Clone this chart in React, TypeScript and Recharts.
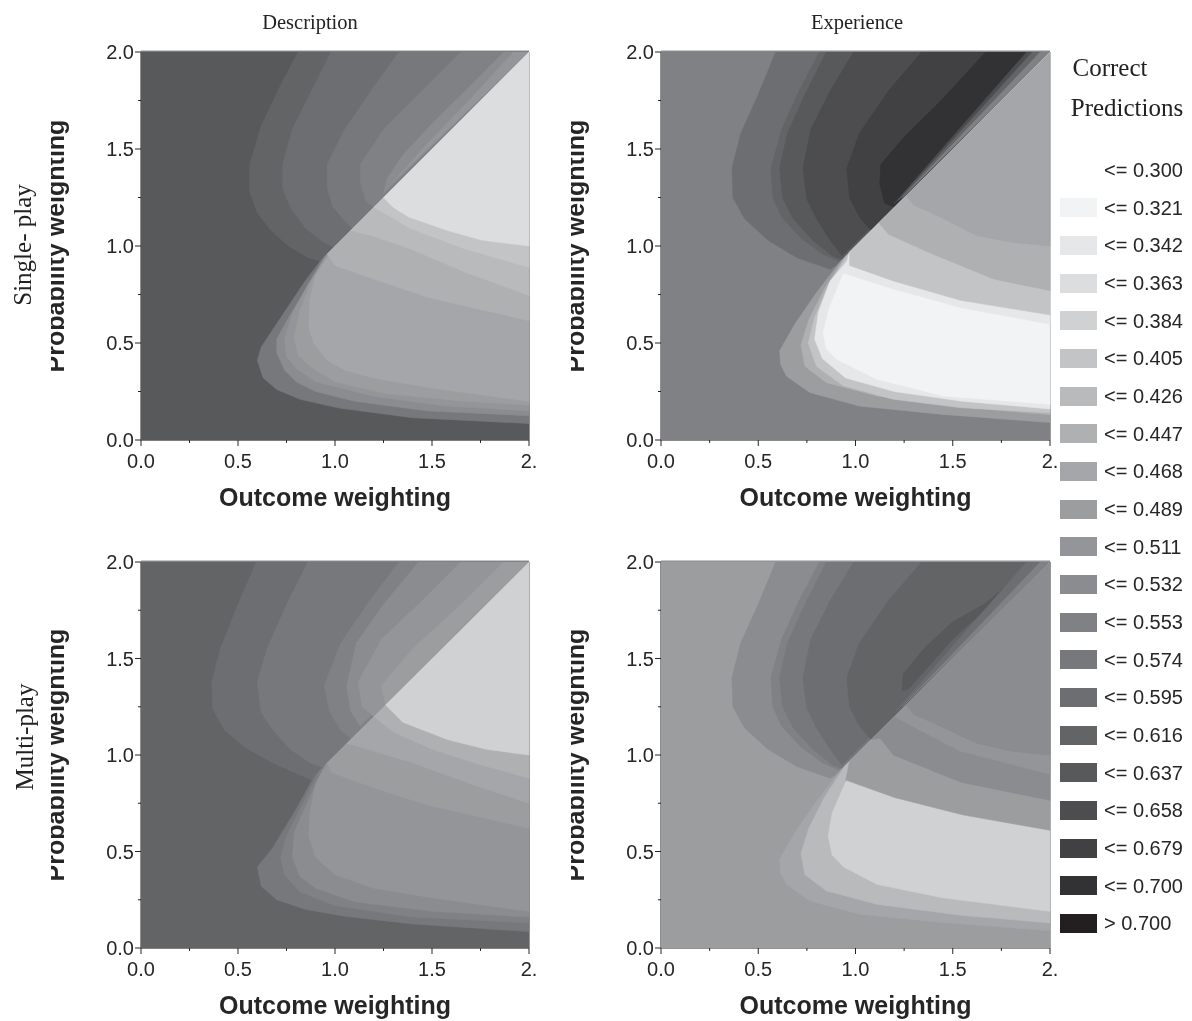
import React from 'react';
import { ScatterChart, Scatter, XAxis, YAxis, ReferenceLine } from 'recharts';

type Pt = [number, number];

const legendLabels = ['<= 0.300','<= 0.321','<= 0.342','<= 0.363','<= 0.384','<= 0.405','<= 0.426','<= 0.447','<= 0.468','<= 0.489','<= 0.511','<= 0.532','<= 0.553','<= 0.574','<= 0.595','<= 0.616','<= 0.637','<= 0.658','<= 0.679','<= 0.700','> 0.700'];
const legendColors = ['#ffffff','#f2f3f4','#e6e7e8','#dcddde','#d0d1d3','#c3c4c6','#b9babc','#afb0b2','#a5a6a9','#9c9d9f','#949598','#8b8c8f','#808184','#77787b','#6d6e71','#636466','#58595b','#4d4d4f','#414042','#323133','#231f20'];
const lv = (label: string) => legendColors[legendLabels.indexOf('<= 0.' + label)];

const xTicks = [0, 0.25, 0.5, 0.75, 1, 1.25, 1.5, 1.75, 2];
const xTickText = ['0.0', '', '0.5', '', '1.0', '', '1.5', '', '2.'];
const yTickText = ['0.0', '', '0.5', '', '1.0', '', '1.5', '', '2.0'];

const fullSquare: Pt[] = [[0,0],[2,0],[2,2],[0,2]];

// Description, single-play
const a1: Pt[] = [[.81,2],[.72,1.83],[.62,1.62],[.56,1.42],[.56,1.28],[.6,1.17],[.67,1.08],[.76,1],[.86,.94],[.93,.92]];
const a2: Pt[] = [[.98,2],[.88,1.8],[.78,1.6],[.73,1.42],[.73,1.3],[.77,1.2],[.85,1.09],[.94,1.02],[1,.99]];
const a3: Pt[] = [[1.33,2],[1.2,1.82],[1.05,1.6],[.96,1.42],[.96,1.3],[.99,1.2],[1.05,1.13],[1.09,1.09]];
const a4: Pt[] = [[1.65,2],[1.45,1.8],[1.25,1.6],[1.13,1.42],[1.13,1.33],[1.16,1.23],[1.2,1.2]];
const a5: Pt[] = [[1.87,2],[1.7,1.83],[1.5,1.63],[1.35,1.47],[1.27,1.35],[1.25,1.27]];
const a6: Pt[] = [[1.92,2],[1.7,1.76],[1.45,1.5],[1.3,1.33]];
const l1: Pt[] = [[.93,.93],[.84,.81],[.72,.63],[.62,.48],[.6,.41],[.63,.32],[.7,.26],[.82,.21],[1.02,.165],[1.4,.115],[2,.085]];
const l2: Pt[] = [[.95,.95],[.85,.78],[.76,.63],[.7,.52],[.7,.45],[.74,.36],[.8,.3],[.9,.25],[1.1,.2],[1.48,.15],[2,.125]];
const l3: Pt[] = [[.96,.96],[.86,.8],[.78,.65],[.74,.52],[.75,.43],[.8,.37],[.9,.3],[1.2,.225],[1.57,.175],[2,.15]];
const l4: Pt[] = [[.98,.98],[.88,.82],[.82,.67],[.79,.53],[.81,.44],[.87,.38],[1,.3],[1.26,.24],[1.67,.2],[2,.18]];
const l5: Pt[] = [[1,1],[.9,.85],[.87,.72],[.865,.58],[.89,.5],[.96,.41],[1.05,.36],[1.2,.32],[1.48,.27],[2,.2]];
const u1: Pt[] = [[.96,.96],[1,.9],[1.2,.83],[1.48,.735],[2,.615]];
const u2: Pt[] = [[1.08,1.08],[1.2,1.05],[1.39,.985],[1.67,.865],[2,.745]];
const u3: Pt[] = [[1.2,1.2],[1.27,1.16],[1.39,1.09],[1.67,.985],[2,.89]];
const u4: Pt[] = [[1.25,1.25],[1.3,1.2],[1.38,1.15],[1.58,1.08],[1.76,1.03],[2,1]];

// Description, multi-play
const c1: Pt[] = [[.595,2],[.5,1.78],[.41,1.55],[.365,1.38],[.37,1.24],[.43,1.13],[.55,1.03],[.7,.95],[.88,.87],[.9,.9]];
const c2: Pt[] = [[.86,2],[.75,1.78],[.65,1.55],[.6,1.38],[.62,1.22],[.68,1.13],[.77,1.03],[.87,.96],[.95,.93]];
const c3: Pt[] = [[1.33,2],[1.18,1.8],[1.03,1.58],[.945,1.36],[.97,1.23],[1.03,1.13],[1.09,1.08]];
const c4: Pt[] = [[1.43,2],[1.25,1.78],[1.11,1.58],[1.06,1.36],[1.08,1.23],[1.13,1.15]];
const c5: Pt[] = [[1.65,2],[1.45,1.8],[1.24,1.6],[1.12,1.38],[1.14,1.25],[1.2,1.2]];
const c6: Pt[] = [[1.87,2],[1.65,1.78],[1.4,1.55],[1.24,1.36],[1.26,1.26]];
const m1: Pt[] = [[.9,.9],[.8,.72],[.68,.52],[.6,.42],[.62,.32],[.7,.25],[.85,.2],[1.05,.165],[1.4,.125],[2,.085]];
const m2: Pt[] = [[.92,.92],[.82,.72],[.75,.58],[.72,.47],[.74,.38],[.82,.29],[1,.22],[1.4,.16],[2,.13]];
const m3: Pt[] = [[.95,.95],[.86,.76],[.79,.6],[.78,.47],[.82,.37],[.9,.31],[1.1,.24],[1.5,.19],[2,.16]];
const m4: Pt[] = [[.96,.96],[.9,.85],[.87,.7],[.865,.58],[.9,.47],[1,.38],[1.2,.31],[1.5,.26],[2,.19]];
const v1: Pt[] = [[.96,.96],[.98,.91],[1.2,.83],[1.48,.74],[2,.62]];
const v2: Pt[] = [[1.06,1.06],[1.1,1.05],[1.4,.96],[1.7,.85],[2,.75]];
const v3: Pt[] = [[1.2,1.2],[1.3,1.12],[1.5,1.03],[1.75,.95],[2,.88]];
const v4: Pt[] = [[1.26,1.26],[1.35,1.17],[1.58,1.08],[1.78,1.03],[2,1]];

// Experience, shared arc shapes (upper-left of the ridge)
const b1: Pt[] = [[.59,2],[.5,1.78],[.41,1.58],[.365,1.4],[.37,1.25],[.43,1.14],[.55,1.03],[.7,.94],[.87,.88],[.9,.9]];
const b2: Pt[] = [[.815,2],[.71,1.8],[.62,1.6],[.565,1.4],[.575,1.25],[.62,1.15],[.72,1.04],[.83,.96],[.92,.92]];
const b3: Pt[] = [[.85,2],[.74,1.78],[.65,1.58],[.61,1.4],[.625,1.25],[.68,1.14],[.78,1.03],[.88,.95],[.93,.93]];
const b4: Pt[] = [[.99,2],[.87,1.8],[.77,1.6],[.73,1.4],[.75,1.24],[.8,1.14],[.87,1.03],[.93,.95]];
const b5: Pt[] = [[1.34,2],[1.17,1.8],[1.02,1.58],[.955,1.4],[.97,1.25],[1.02,1.15],[1.08,1.08]];
const b6: Pt[] = [[1.67,2],[1.45,1.76],[1.25,1.56],[1.13,1.42],[1.125,1.32],[1.15,1.22],[1.2,1.2]];
const e1: Pt[] = [[1.88,2],[1.2,1.22]];
const e2: Pt[] = [[1.91,2],[1.22,1.235]];
const e3: Pt[] = [[1.95,2],[1.24,1.25]];
const lens: Pt[] = [[1.24,1.33],[1.245,1.42],[1.36,1.56],[1.5,1.69],[1.66,1.78],[1.78,1.88],[1.9,1.97],[1.5,1.6],[1.27,1.34]];

// Experience, single-play, lower right
const n1: Pt[] = [[.93,.93],[.8,.76],[.69,.6],[.61,.46],[.615,.39],[.645,.33],[.765,.245],[1.02,.175],[1.45,.132],[2,.09]];
const n2: Pt[] = [[.95,.95],[.84,.78],[.76,.62],[.72,.49],[.74,.38],[.85,.296],[1.11,.227],[1.54,.17],[2,.13]];
const n3: Pt[] = [[.97,.97],[.86,.8],[.79,.63],[.757,.5],[.8,.38],[.937,.28],[1.195,.21],[1.54,.167],[2,.14]];
const n4: Pt[] = [[.98,.95],[.87,.82],[.81,.66],[.79,.52],[.83,.42],[.95,.32],[1.2,.25],[1.55,.2],[2,.16]];
const n5: Pt[] = [[.937,.855],[.868,.69],[.834,.554],[.85,.47],[.903,.416],[1.11,.313],[1.453,.227],[2,.184]];
const o1: Pt[] = [[.97,.97],[.94,.86],[1.195,.778],[1.54,.683],[2,.597]];
const o2: Pt[] = [[.97,.97],[.97,.9],[1.195,.82],[1.54,.72],[2,.645]];
const o3: Pt[] = [[1.12,1.12],[1.17,1.06],[1.37,.97],[1.71,.83],[2,.77]];
const o4: Pt[] = [[1.26,1.26],[1.3,1.21],[1.42,1.157],[1.625,1.053],[1.8,1.02],[2,1]];

// Experience, multi-play, lower right
const p1: Pt[] = [[.95,.95],[.84,.78],[.76,.62],[.72,.49],[.74,.38],[.85,.296],[1.11,.227],[1.54,.17],[2,.13]];
const p2: Pt[] = [[.95,.86],[.88,.7],[.86,.58],[.88,.48],[.94,.42],[1.11,.33],[1.45,.26],[2,.19]];
const q1: Pt[] = [[.97,.97],[.95,.87],[1.2,.78],[1.55,.69],[2,.61]];
const q2: Pt[] = [[1.08,1.08],[1.127,1.087],[1.195,1],[1.54,.86],[2,.765]];
const q3: Pt[] = [[1.2,1.2],[1.28,1.155],[1.54,1.02],[2,.9]];
const q4: Pt[] = [[1.26,1.26],[1.3,1.21],[1.42,1.157],[1.625,1.06],[1.8,1.02],[2,1]];

type Layer = { pts: Pt[]; fill: string };
const toCorner = (pts: Pt[], label: string): Layer => ({ pts: [...pts, [2, 2]], fill: lv(label) });
const raw = (pts: Pt[], label: string): Layer => ({ pts, fill: lv(label) });

const descSingle: Layer[] = [
  raw(fullSquare, '637'), toCorner(a1, '616'), toCorner(a2, '595'), toCorner(a3, '574'), toCorner(a4, '553'), toCorner(a5, '532'), toCorner(a6, '511'),
  toCorner(l1, '574'), toCorner(l2, '532'), toCorner(l3, '511'), toCorner(l4, '489'), toCorner(l5, '468'),
  toCorner(u1, '447'), toCorner(u2, '426'), toCorner(u3, '405'), toCorner(u4, '363'),
];
const descMulti: Layer[] = [
  raw(fullSquare, '616'), toCorner(c1, '595'), toCorner(c2, '574'), toCorner(c3, '553'), toCorner(c4, '532'), toCorner(c5, '511'), toCorner(c6, '489'),
  toCorner(m1, '574'), toCorner(m2, '553'), toCorner(m3, '532'), toCorner(m4, '511'),
  toCorner(v1, '489'), toCorner(v2, '468'), toCorner(v3, '447'), toCorner(v4, '384'),
];
const expSingle: Layer[] = [
  raw(fullSquare, '553'), toCorner(b1, '595'), toCorner(b2, '616'), toCorner(b3, '637'), toCorner(b4, '658'), toCorner(b5, '679'), toCorner(b6, '700'),
  toCorner(e1, '658'), toCorner(e2, '616'), toCorner(e3, '553'),
  toCorner(n1, '489'), toCorner(n2, '447'), toCorner(n3, '405'), toCorner(n4, '342'), toCorner(n5, '321'),
  toCorner(o1, '342'), toCorner(o2, '405'), toCorner(o3, '447'), toCorner(o4, '468'),
];
const expMulti: Layer[] = [
  raw(fullSquare, '489'), toCorner(b1, '532'), toCorner(b2, '553'), toCorner(b3, '574'), toCorner(b4, '595'), toCorner(b5, '616'),
  raw(lens, '637'), toCorner(e1, '595'), toCorner(e3, '553'),
  toCorner(n1, '468'), toCorner(p1, '426'), toCorner(p2, '384'),
  toCorner(q1, '489'), toCorner(q2, '532'), toCorner(q3, '511'), toCorner(q4, '532'),
];

const SANS = '"Liberation Sans", Arial, sans-serif';
const SERIF = '"Liberation Serif", "Times New Roman", serif';
const INK = '#262626';
const FRAME = '#8e8f91';

const XTick = (props: any) => {
  const { x, y, index } = props;
  const major = index % 2 === 0;
  return (
    <g>
      <line x1={x} y1={y} x2={x} y2={y + (major ? 6 : 3)} stroke={INK} strokeWidth={1} />
      {major && (
        <text x={x} y={y + 28} textAnchor="middle" fontFamily={SANS} fontSize={20} fill={INK}>
          {xTickText[index]}
        </text>
      )}
    </g>
  );
};

const YTick = (props: any) => {
  const { x, y, index } = props;
  const major = index % 2 === 0;
  return (
    <g>
      <line x1={x} y1={y} x2={x - (major ? 6 : 3)} y2={y} stroke={INK} strokeWidth={1} />
      {major && (
        <text x={x - 7} y={y + 7} textAnchor="end" fontFamily={SANS} fontSize={20} fill={INK}>
          {yTickText[index]}
        </text>
      )}
    </g>
  );
};

const Nothing = () => <g />;

const Panel = ({ left, top, w, h, layers }: { left: number; top: number; w: number; h: number; layers: Layer[] }) => {
  const yw = 90, xh = 72, mt = 10, mr = 15;
  return (
    <div style={{ position: 'absolute', left: left - yw, top: top - mt }}>
      <ScatterChart width={yw + w + mr} height={mt + h + xh} margin={{ top: mt, right: mr, bottom: 0, left: 0 }}>
        <XAxis
          type="number" dataKey="x" domain={[0, 2]} ticks={xTicks} interval={0} height={xh}
          tick={<XTick />} tickLine={false} tickSize={0} tickMargin={0}
          axisLine={{ stroke: FRAME, strokeWidth: 2 }}
          label={{ value: 'Outcome weighting', position: 'insideBottom', offset: 6, fontFamily: SANS, fontWeight: 700, fontSize: 25, fill: INK }}
        />
        <YAxis
          type="number" dataKey="y" domain={[0, 2]} ticks={xTicks} interval={0} width={yw}
          tick={<YTick />} tickLine={false} tickSize={0} tickMargin={0}
          axisLine={{ stroke: FRAME, strokeWidth: 2 }}
          label={{ value: 'Probability weighting', angle: -90, position: 'insideLeft', offset: 4, style: { textAnchor: 'middle' }, fontFamily: SANS, fontWeight: 700, fontSize: 25, fill: INK }}
        />
        {layers.map((layer, i) => (
          <Scatter
            key={i}
            data={layer.pts.map(([x, y]) => ({ x, y }))}
            isAnimationActive={false}
            shape={<Nothing />}
            fill={layer.fill}
            line={{ fill: layer.fill, stroke: layer.fill, strokeWidth: 0.6 }}
          />
        ))}
        <ReferenceLine y={2} stroke={FRAME} strokeWidth={3} />
        <ReferenceLine x={2} stroke={FRAME} strokeWidth={1.5} />
        <ReferenceLine x={0} stroke={FRAME} strokeWidth={2} />
      </ScatterChart>
    </div>
  );
};

const Caption = ({ x, y, size, text, rotate }: { x: number; y: number; size: number; text: string; rotate?: boolean }) => (
  <div
    style={{
      position: 'absolute', left: x, top: y, fontFamily: SERIF, fontSize: size, color: '#222', whiteSpace: 'pre', lineHeight: 1,
      transform: rotate ? 'translate(-50%,-50%) rotate(-90deg)' : 'translate(-50%,-50%)',
    }}
  >
    {text}
  </div>
);

const legendRowStep = 37.67;
const legendFirstRow = 170;

export default function App() {
  return (
    <div style={{ position: 'absolute', left: 0, top: 0, width: 1192, height: 1021, overflow: 'hidden', background: '#fff', filter: 'blur(0.45px)' }}>
      <Caption x={310} y={22} size={20.5} text="Description" />
      <Caption x={857} y={22} size={20.5} text="Experience" />
      <Caption x={22} y={245} size={25} text="Single- play" rotate />
      <Caption x={24} y={737} size={25} text="Multi-play" rotate />
      <Caption x={1110} y={67} size={25} text="Correct" />
      <Caption x={1127} y={107} size={25} text="Predictions" />

      <Panel left={141} top={52} w={388} h={388} layers={descSingle} />
      <Panel left={661} top={52} w={389} h={388} layers={expSingle} />
      <Panel left={141} top={562} w={388} h={386} layers={descMulti} />
      <Panel left={661} top={562} w={389} h={386} layers={expMulti} />

      {legendLabels.map((label, i) => {
        const cy = legendFirstRow + i * legendRowStep;
        return (
          <React.Fragment key={label}>
            {i > 0 && <div style={{ position: 'absolute', left: 1060, top: cy - 9.5, width: 37, height: 19, background: legendColors[i] }} />}
            <div style={{ position: 'absolute', left: 1104, top: cy - 12, lineHeight: '24px', fontFamily: SANS, fontSize: 20, color: INK, whiteSpace: 'pre' }}>{label}</div>
          </React.Fragment>
        );
      })}
    </div>
  );
}
